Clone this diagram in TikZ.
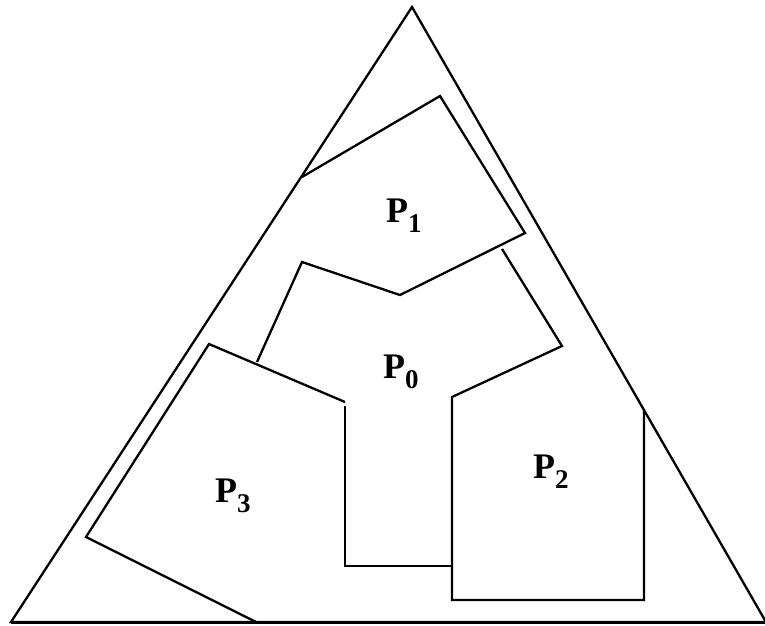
\documentclass[tikz,border=0pt]{standalone}
\usepackage{fontspec}
\setmainfont{Liberation Serif}
\usetikzlibrary{calc}

\tikzstyle{edge}  = [line width=2.3pt, line join=miter, black]
\tikzstyle{piece} = [inner sep=0pt, anchor=base west,
                     font=\fontsize{36}{40}\selectfont\bfseries]
\newcommand{\pname}[1]{P\raisebox{-10pt}{\fontsize{27}{27}\selectfont #1}}

\begin{document}
\begin{tikzpicture}[x=1pt, y=-1pt]
  \useasboundingbox (0,0) rectangle (765,625);

  %% Outer triangle
  \coordinate (apex) at (412,7);
  \coordinate (bl)   at (11,622);
  \coordinate (br)   at (766,622);
  \draw[edge] (apex) -- (bl) -- (br) -- cycle;
  \draw[edge, line width=3pt] (bl) -- (br);

  %% P1 and upper rim of P0
  \draw[edge] (302,177) -- (440,96) -- (525,233) -- (400,295)
              -- (302,262) -- (257,362);

  %% P0 right side and P2
  \draw[edge] (502,249) -- (562,346) -- (452,397) -- (452,600)
              -- (644,600) -- (644,410);

  %% P0 lower part
  \draw[edge] (345,406) -- (345,566) -- (451,566);

  %% P3
  \draw[edge] (256,622) -- (86,537) -- (209,344) -- (345,402);

  %% Labels
  \node[piece] (p1) at (386,222) {\pname{1}};
  \node[piece] (p0) at (383,378) {\pname{0}};
  \node[piece] (p2) at (533,478) {\pname{2}};
  \node[piece] (p3) at (215,502) {\pname{3}};

\end{tikzpicture}
\end{document}
